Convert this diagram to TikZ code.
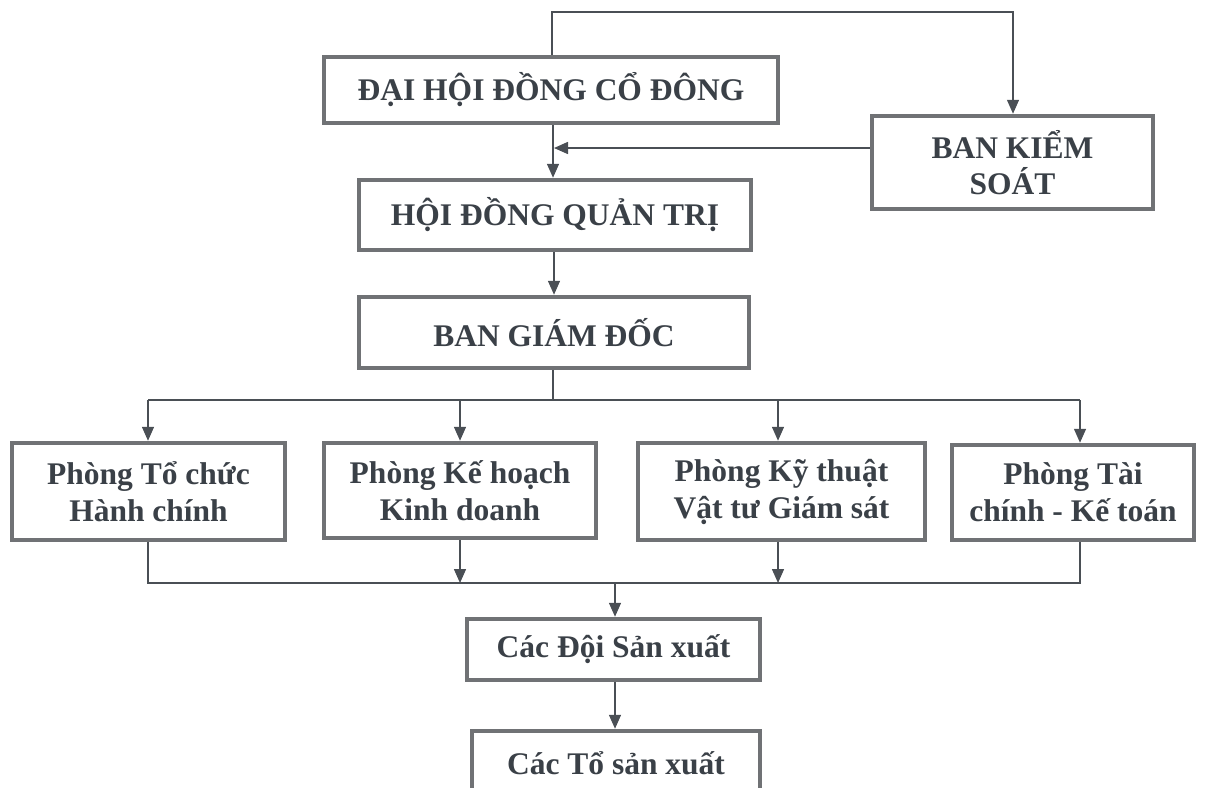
\documentclass[tikz,border=0pt]{standalone}
\usepackage{fontspec}
\setmainfont{Liberation Serif}
\usetikzlibrary{arrows.meta,calc}
\definecolor{boxgray}{HTML}{707275}
\definecolor{txt}{HTML}{3A4047}
\definecolor{ln}{HTML}{4A4F55}
\tikzset{
  orgbox/.style={draw=boxgray, line width=4.5pt, fill=white, text=txt, align=center,
    font=\bfseries\fontsize{31.5}{37}\selectfont, inner sep=0pt},
  capbox/.style={orgbox, font=\bfseries\fontsize{31.5}{36}\selectfont},
  conn/.style={draw=ln, line width=1.5pt},
  arr/.style={conn, -{Triangle[length=14pt,width=12pt]}}
}
\begin{document}
\begin{tikzpicture}[x=1pt,y=-1pt]
\useasboundingbox (0,0) rectangle (1209,787);
\node[capbox, minimum width=454pt, minimum height=66pt] (dhd) at (551,90) {ĐẠI HỘI ĐỒNG CỔ ĐÔNG};
\node[capbox, minimum width=281pt, minimum height=93pt] (bks) at (1012.5,162.5) {BAN KIỂM\\SOÁT};
\node[capbox, minimum width=392pt, minimum height=70pt] (hdqt) at (555,215) {HỘI ĐỒNG QUẢN TRỊ};
\node[capbox, minimum width=390pt, minimum height=71pt] (bgd) at (554,332.5) {BAN GIÁM ĐỐC};
\node[orgbox, minimum width=273pt, minimum height=97pt] (p1) at (148.5,491.5) {Phòng Tổ chức\\Hành chính};
\node[orgbox, minimum width=272pt, minimum height=95pt] (p2) at (460,490.5) {Phòng Kế hoạch\\Kinh doanh};
\node[orgbox, minimum width=287pt, minimum height=97pt] (p3) at (781.5,491.5) {Phòng Kỹ thuật\\Vật tư Giám sát};
\node[orgbox, minimum width=242pt, minimum height=95pt] (p4) at (1073,492.5) {Phòng Tài\\chính - Kế toán};
\node[orgbox, minimum width=293pt, minimum height=61pt] (doi) at (613.5,649.5) {Các Đội Sản xuất};
\node[orgbox, minimum width=288pt, minimum height=64pt] (to) at (616,763) {Các Tổ sản xuất};

% top loop to Ban kiem soat
\coordinate (t1) at (552,12);
\coordinate (t2) at (1013,12);
\draw[arr] (t1 |- dhd.north) -- (t1) -- (t2) -- (t2 |- bks.north);
% DHD -> HDQT
\coordinate (v1) at (553,148);
\draw[arr] (v1 |- dhd.south) -- (v1 |- hdqt.north);
% BKS -> line
\draw[arr] (bks.west |- v1) -- ($(v1)+(1,0)$);
% HDQT -> BGD
\coordinate (v2) at (554,260);
\draw[arr] (v2 |- hdqt.south) -- (v2 |- bgd.north);
% BGD -> departments
\coordinate (b0) at (553,400);
\coordinate (bl) at (148,400);
\coordinate (br) at (1080,400);
\coordinate (b2) at (460,400);
\coordinate (b3) at (778,400);
\draw[conn] (b0 |- bgd.south) -- (b0);
\draw[conn] (bl) -- (br);
\draw[arr] (bl) -- (bl |- p1.north);
\draw[arr] (b2) -- (b2 |- p2.north);
\draw[arr] (b3) -- (b3 |- p3.north);
\draw[arr] (br) -- (br |- p4.north);
% departments -> Doi
\coordinate (cl) at (148,583);
\coordinate (cr) at (1080,583);
\coordinate (c2) at (460,583);
\coordinate (c3) at (778,583);
\coordinate (c0) at (615,583);
\draw[conn] (cl |- p1.south) -- (cl) -- (cr) -- (cr |- p4.south);
\draw[arr] (c2 |- p2.south) -- (c2);
\draw[arr] (c3 |- p3.south) -- (c3);
\draw[arr] (c0) -- (c0 |- doi.north);
\draw[arr] (c0 |- doi.south) -- (c0 |- to.north);
\end{tikzpicture}
\end{document}
